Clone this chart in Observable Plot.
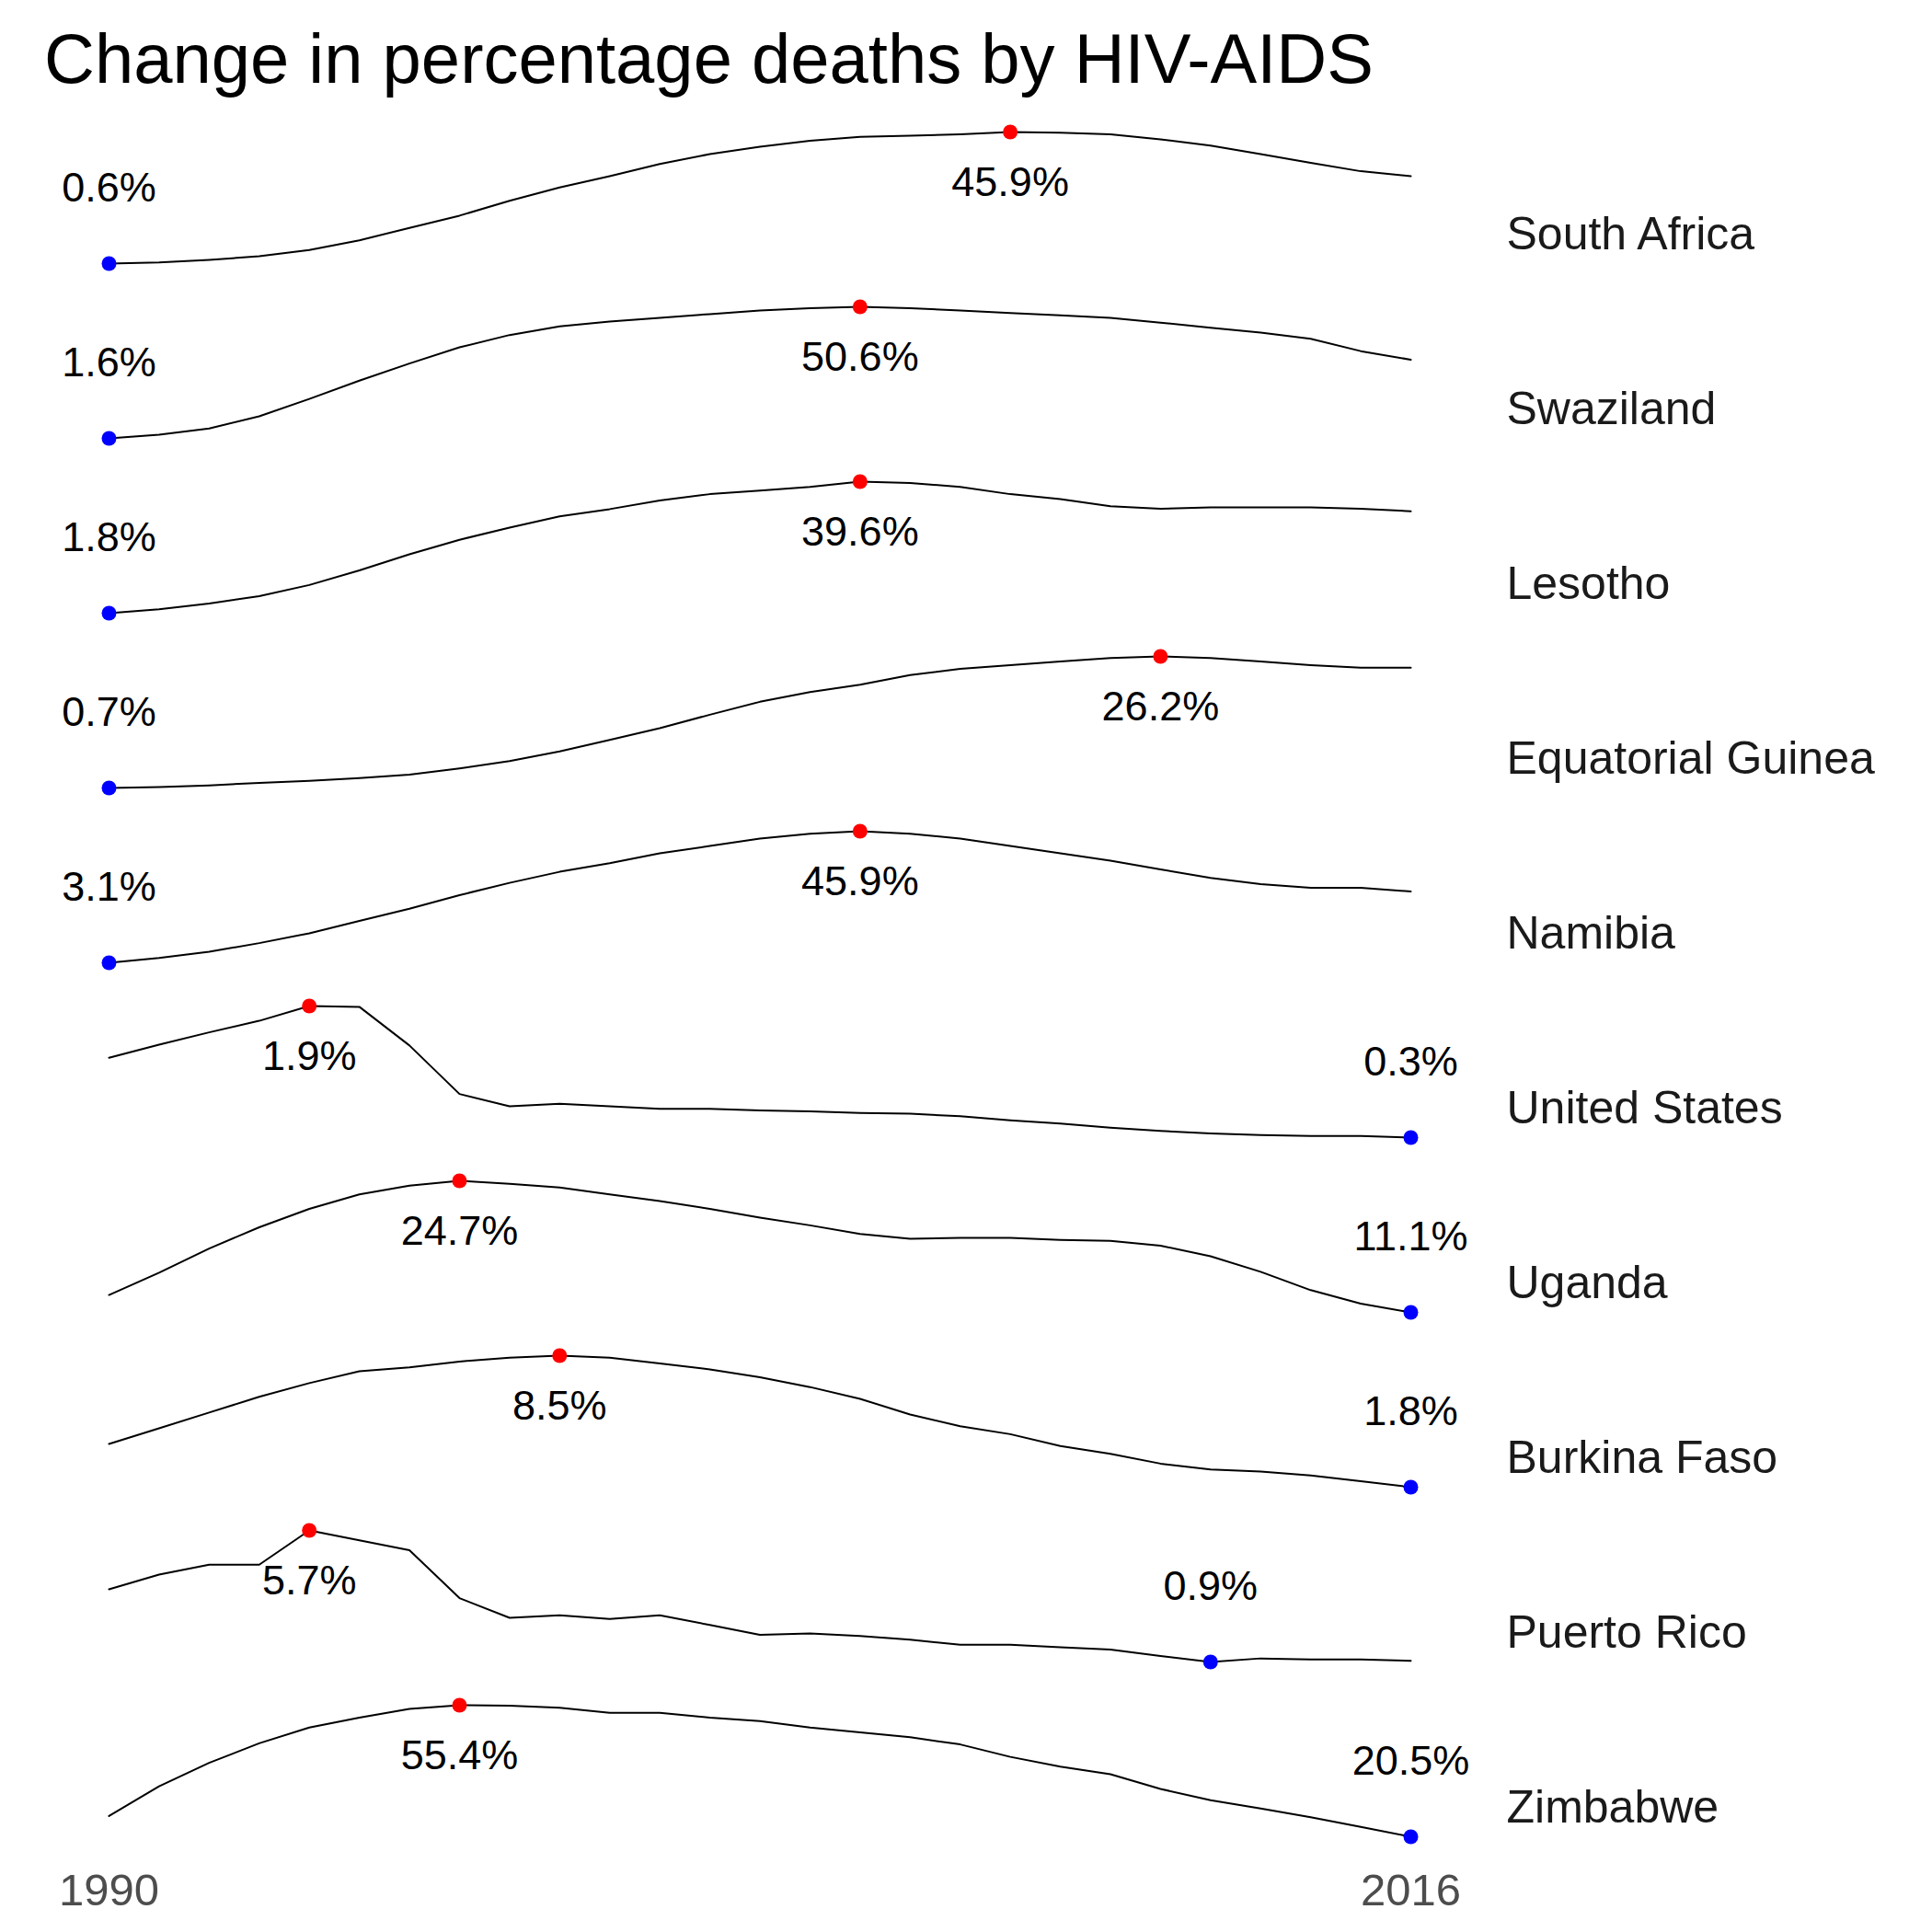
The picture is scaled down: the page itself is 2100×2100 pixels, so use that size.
<!DOCTYPE html>
<html lang="en">
  <head>
    <meta charset="UTF-8" />
    <title>Change in percentage deaths by HIV-AIDS</title>
    <style>
      body { margin: 0; background: #fff; font-family: "Liberation Sans", Arial, sans-serif; }
      h1 { margin: 0; height: 110px; padding-left: 48px; font-weight: normal; font-size: 76px; line-height: 128px; color: #000; }
    </style>
  </head>
  <body>
    <h1>Change in percentage deaths by HIV-AIDS</h1>
    <div id="chart"></div>

    <script src="https://cdn.jsdelivr.net/npm/d3@7"></script>
    <script src="https://cdn.jsdelivr.net/npm/@observablehq/plot@0.6"></script>
    <script>
      const years = d3.range(1990, 2017);
      const countries = ["South Africa", "Swaziland", "Lesotho", "Equatorial Guinea", "Namibia",
        "United States", "Uganda", "Burkina Faso", "Puerto Rico", "Zimbabwe"];

      const southAfrica = [0.6, 1.0, 1.9, 3.1, 5.3, 8.6, 12.9, 17.1, 22.2, 26.8, 30.7, 34.9, 38.3, 40.8, 42.9, 44.2, 44.6, 45.1, 45.9, 45.7, 45.1, 43.4, 41.2, 38.3, 35.3, 32.4, 30.7];
      const swaziland = [1.6, 3.0, 5.3, 9.8, 16.3, 23.1, 29.5, 35.5, 40.1, 43.3, 45.1, 46.5, 47.9, 49.2, 50.1, 50.6, 50.1, 49.2, 48.3, 47.4, 46.5, 44.7, 42.8, 41.0, 38.7, 34.1, 30.9];
      const lesotho = [1.8, 2.9, 4.6, 6.7, 9.9, 14.1, 18.7, 22.9, 26.4, 29.6, 31.7, 34.2, 36.0, 37.0, 38.1, 39.6, 39.2, 38.1, 36.0, 34.6, 32.5, 31.8, 32.2, 32.2, 32.2, 31.8, 31.1];
      const equatorialGuinea = [0.7, 0.9, 1.2, 1.7, 2.1, 2.6, 3.3, 4.5, 5.9, 7.8, 10.0, 12.3, 14.9, 17.4, 19.3, 20.7, 22.6, 23.8, 24.5, 25.2, 25.9, 26.2, 25.9, 25.2, 24.5, 24.0, 24.0];
      const namibia = [3.1, 4.7, 6.7, 9.5, 12.7, 16.7, 20.7, 25.1, 29.1, 32.7, 35.5, 38.7, 41.1, 43.5, 45.1, 45.9, 45.1, 43.5, 41.1, 38.7, 36.3, 33.5, 30.7, 28.7, 27.5, 27.5, 26.3];
      const unitedStates = [1.27, 1.43, 1.58, 1.72, 1.9, 1.89, 1.42, 0.83, 0.68, 0.71, 0.68, 0.65, 0.65, 0.63, 0.62, 0.60, 0.59, 0.56, 0.51, 0.47, 0.42, 0.38, 0.35, 0.33, 0.32, 0.32, 0.3];
      const uganda = [12.9, 15.2, 17.7, 19.9, 21.8, 23.3, 24.2, 24.7, 24.4, 24.0, 23.3, 22.6, 21.8, 20.9, 20.1, 19.2, 18.7, 18.8, 18.8, 18.6, 18.5, 18.0, 16.9, 15.3, 13.4, 12.0, 11.1];
      const burkinaFaso = [4.0, 4.8, 5.6, 6.4, 7.1, 7.7, 7.9, 8.2, 8.4, 8.5, 8.4, 8.1, 7.8, 7.4, 6.9, 6.3, 5.5, 4.9, 4.5, 3.9, 3.5, 3.0, 2.7, 2.6, 2.4, 2.1, 1.8];
      const puertoRico = [3.55, 4.09, 4.45, 4.45, 5.7, 5.34, 4.98, 3.23, 2.51, 2.60, 2.47, 2.60, 2.25, 1.89, 1.94, 1.85, 1.71, 1.53, 1.53, 1.44, 1.35, 1.12, 0.9, 1.03, 0.99, 0.99, 0.94];
      const zimbabwe = [26.0, 33.9, 40.1, 45.3, 49.5, 52.1, 54.4, 55.4, 55.3, 54.7, 53.4, 53.4, 52.1, 51.2, 49.5, 48.2, 46.9, 45.0, 41.7, 39.1, 37.1, 33.2, 30.2, 28.0, 25.7, 23.1, 20.5];

      const series = [southAfrica, swaziland, lesotho, equatorialGuinea, namibia,
        unitedStates, uganda, burkinaFaso, puertoRico, zimbabwe];

      // each sparkline gets its own y range: scale values to 0..1 per country
      const rows = [];
      const minPts = [];
      const maxPts = [];
      countries.forEach((c, i) => {
        const vals = series[i];
        const lo = d3.min(vals), hi = d3.max(vals);
        vals.forEach((v, j) => rows.push({country: c, year: years[j], value: v, n: (v - lo) / (hi - lo)}));
        const iMin = d3.minIndex(vals), iMax = d3.maxIndex(vals);
        minPts.push({country: c, year: years[iMin], value: vals[iMin], n: 0});
        maxPts.push({country: c, year: years[iMax], value: vals[iMax], n: 1});
      });
      const fmt = d => d.value.toFixed(1) + "%";

      const plot = Plot.plot({
        width: 2100,
        height: 1990,
        marginLeft: 118,
        marginRight: 567,
        marginTop: 31,
        marginBottom: 102,
        style: {fontFamily: "Liberation Sans, Arial, sans-serif", background: "white"},
        x: {domain: [1990, 2016], label: null},
        y: {domain: [0, 1], axis: null},
        fy: {domain: countries, axis: null, paddingInner: 0.25, paddingOuter: 0, label: null},
        marks: [
          Plot.axisX({ticks: [1990, 2016], tickFormat: "d", tickSize: 0, tickPadding: 40, fontSize: 49, fill: "#4d4d4d", label: null}),
          Plot.lineY(rows, {x: "year", y: "n", fy: "country", stroke: "black", strokeWidth: 2}),
          Plot.dot(minPts, {x: "year", y: "n", fy: "country", r: 8, fill: "blue"}),
          Plot.dot(maxPts, {x: "year", y: "n", fy: "country", r: 8, fill: "red"}),
          Plot.text(minPts, {x: "year", y: "n", fy: "country", text: fmt, dy: -82, fontSize: 45, fill: "black"}),
          Plot.text(maxPts, {x: "year", y: "n", fy: "country", text: fmt, dy: 55, fontSize: 45, fill: "black"}),
          Plot.text(countries, {fy: d => d, text: d => d, frameAnchor: "right", textAnchor: "start", dx: 104, dy: 40, fontSize: 50, fill: "#1a1a1a"})
        ]
      });
      document.querySelector("#chart").append(plot);
    </script>
  </body>
</html>
